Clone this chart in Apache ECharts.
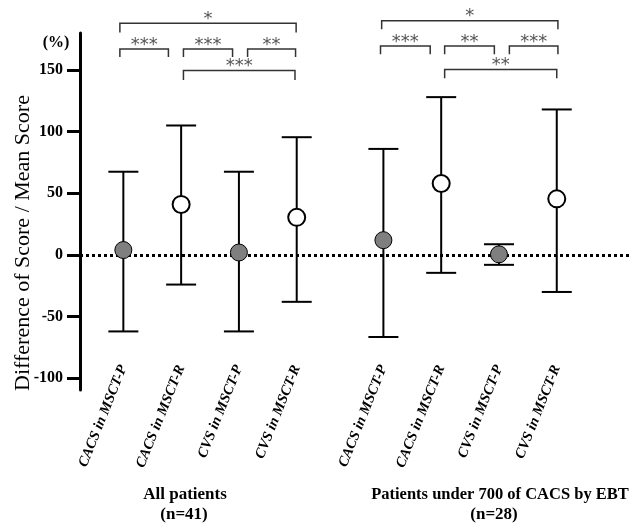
<!DOCTYPE html>
<html>
<head>
<meta charset="utf-8">
<script src="https://cdn.jsdelivr.net/npm/echarts@6/dist/echarts.min.js"></script>
<style>
  html, body { margin: 0; padding: 0; background: #fff; }
</style>
</head>
<body>
<div id="chart" style="width: 629px; height: 523px"></div>
<script>
// categories, two groups of four
var categories = [
  "CACS in MSCT-P", "CACS in MSCT-R", "CVS in MSCT-P", "CVS in MSCT-R",
  "CACS in MSCT-P", "CACS in MSCT-R", "CVS in MSCT-P", "CVS in MSCT-R"
];
var positions = [1, 2, 3, 4, 5.5, 6.5, 7.5, 8.5];
var means = [4, 41, 2, 30.5, 12, 58, 0.5, 45.5];
var upper = [67.5, 105, 67.5, 95.5, 86, 128, 8.7, 118];
var lower = [-62, -24, -62, -38, -66.5, -14.5, -8, -30];
var yTicks = [-100, -50, 0, 50, 100, 150];

// significance brackets
var bracketFrom = [0.94, 0.94, 2.04, 3.15, 2.04, 5.47, 5.45, 6.56, 7.68, 6.56];
var bracketTo = [3.99, 1.78, 2.89, 3.98, 3.97, 8.52, 6.31, 7.42, 8.52, 8.5];
var bracketY = [188, 167, 167, 167, 149.5, 190, 169.5, 169.5, 169.5, 150.5];
var bracketLeg = [180.5, 160.5, 160.5, 160.5, 141.8, 183, 162.7, 162.7, 162.7, 143.4];
var bracketStars = ["*", "***", "***", "**", "***", "*", "***", "**", "***", "**"];

var serif = "'Times New Roman', 'Liberation Serif', 'DejaVu Serif', serif";

var errData = positions.map(function (p, i) { return [p, upper[i], lower[i]]; });
var filledData = [], openData = [];
positions.forEach(function (p, i) {
  if (/-P$/.test(categories[i])) filledData.push([p, means[i]]);
  else openData.push([p, means[i]]);
});
var bracketData = bracketFrom.map(function (b, i) {
  return [b, bracketTo[i], bracketY[i], bracketLeg[i], bracketStars[i]];
});

var option = {
  animation: false,
  grid: { left: 80, top: 33, height: 357, width: 554 },
  xAxis: {
    type: "value",
    min: 0.25,
    max: 9.75,
    offset: -30,
    axisLine: { show: false, onZero: false },
    axisTick: { show: false },
    splitLine: { show: false },
    axisLabel: {
      customValues: positions,
      rotate: 68,
      margin: 6,
      fontFamily: serif,
      fontSize: 14.5,
      fontWeight: "bold",
      fontStyle: "italic",
      color: "#000",
      formatter: function (v) {
        var i = positions.indexOf(v);
        return i >= 0 ? categories[i] : "";
      }
    }
  },
  yAxis: {
    type: "value",
    min: -109.5,
    max: 180,
    axisLine: { show: true, onZero: false, lineStyle: { color: "#000", width: 3 } },
    axisTick: { show: true, customValues: yTicks, length: 13, lineStyle: { color: "#000", width: 3 } },
    splitLine: { show: false },
    axisLabel: {
      customValues: yTicks,
      margin: 17,
      fontFamily: serif,
      fontSize: 16,
      fontWeight: "bold",
      color: "#000"
    }
  },
  graphic: [
    {
      type: "text", x: 23, y: 243, rotation: Math.PI / 2,
      style: { text: "Difference of Score / Mean Score", fontFamily: serif, fontSize: 22, fill: "#000", align: "center", verticalAlign: "middle" }
    },
    {
      type: "text", x: 56, y: 43,
      style: { text: "(%)", fontFamily: serif, fontSize: 16, fontWeight: "bold", fill: "#000", align: "center", verticalAlign: "middle" }
    },
    {
      type: "text", x: 185, y: 495,
      style: { text: "All patients", fontFamily: serif, fontSize: 17, fontWeight: "bold", fill: "#000", align: "center", verticalAlign: "middle" }
    },
    {
      type: "text", x: 184, y: 515,
      style: { text: "(n=41)", fontFamily: serif, fontSize: 17, fontWeight: "bold", fill: "#000", align: "center", verticalAlign: "middle" }
    },
    {
      type: "text", x: 500, y: 495,
      style: { text: "Patients under 700 of CACS by EBT", fontFamily: serif, fontSize: 16.5, fontWeight: "bold", fill: "#000", align: "center", verticalAlign: "middle" }
    },
    {
      type: "text", x: 494, y: 515,
      style: { text: "(n=28)", fontFamily: serif, fontSize: 17, fontWeight: "bold", fill: "#000", align: "center", verticalAlign: "middle" }
    }
  ],
  series: [
    {
      // error bars + dotted zero line
      type: "custom",
      data: errData,
      z: 2,
      renderItem: function (params, api) {
        var x = api.value(0);
        var top = api.coord([x, api.value(1)]);
        var bot = api.coord([x, api.value(2)]);
        var w = 15;
        var st = { stroke: "#000", lineWidth: 2 };
        return {
          type: "group",
          children: [
            { type: "line", shape: { x1: top[0], y1: top[1], x2: bot[0], y2: bot[1] }, style: st },
            { type: "line", shape: { x1: top[0] - w, y1: top[1], x2: top[0] + w, y2: top[1] }, style: st },
            { type: "line", shape: { x1: bot[0] - w, y1: bot[1], x2: bot[0] + w, y2: bot[1] }, style: st }
          ]
        };
      },
      markLine: {
        silent: true,
        symbol: "none",
        label: { show: false },
        lineStyle: { color: "#000", width: 3, type: [3, 3] },
        data: [{ yAxis: 0 }]
      }
    },
    {
      type: "scatter",
      data: filledData,
      z: 5,
      symbolSize: 17,
      itemStyle: { color: "#7f7f7f", borderColor: "#000", borderWidth: 1, opacity: 1 }
    },
    {
      type: "scatter",
      data: openData,
      z: 5,
      symbolSize: 17,
      itemStyle: { color: "#fff", borderColor: "#000", borderWidth: 2, opacity: 1 }
    },
    {
      // significance brackets
      type: "custom",
      data: bracketData,
      clip: false,
      z: 3,
      renderItem: function (params, api) {
        var a = api.coord([api.value(0), api.value(2)]);
        var b = api.coord([api.value(1), api.value(2)]);
        var legY = api.coord([api.value(0), api.value(3)])[1];
        return {
          type: "group",
          children: [
            {
              type: "polyline",
              shape: { points: [[a[0], legY], [a[0], a[1]], [b[0], b[1]], [b[0], legY]] },
              style: { stroke: "#333", lineWidth: 1.5, fill: null }
            },
            {
              type: "text",
              x: (a[0] + b[0]) / 2,
              y: a[1] - 4,
              style: {
                text: api.value(4),
                fontFamily: "'DejaVu Sans', sans-serif",
                fontSize: 18,
                fill: "#555",
                align: "center",
                verticalAlign: "middle"
              }
            }
          ]
        };
      }
    }
  ]
};

var myCharts = echarts.init(document.getElementById("chart"));
myCharts.setOption(option);
</script>
</body>
</html>
